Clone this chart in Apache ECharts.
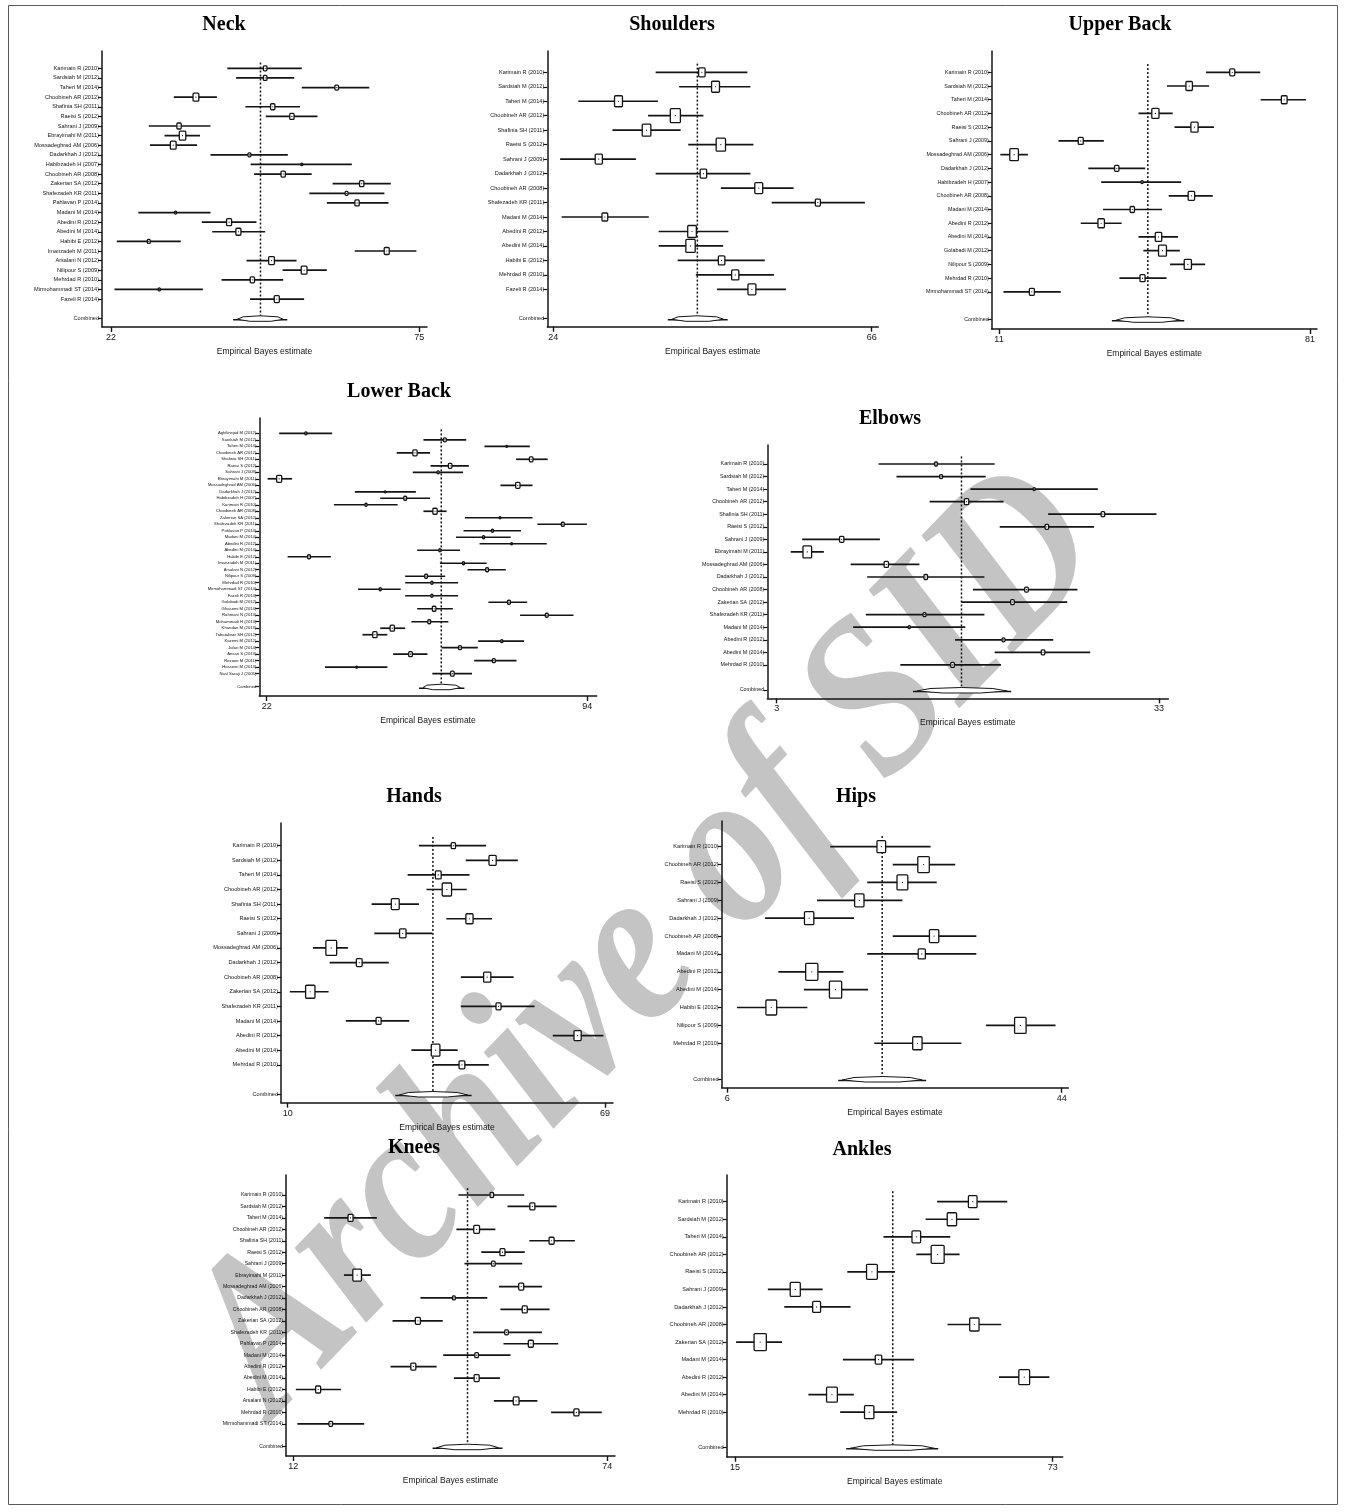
<!DOCTYPE html>
<html>
<head>
<meta charset="utf-8">
<title>Musculoskeletal symptoms – Empirical Bayes estimates</title>
<script src="https://cdn.jsdelivr.net/npm/echarts@6/dist/echarts.min.js"></script>
<style>
  html, body { margin: 0; padding: 0; background: #ffffff; }
  #chart { width: 1346px; height: 1512px; }
</style>
</head>
<body>
<div id="chart"></div>
<script>
// ---------------- Neck ----------------
const neckStudies = ["Karimain R (2010)", "Sardsiah M (2012)", "Taheri M (2014)", "Choobineh AR (2012)", "Shafinia SH (2011)", "Raeisi S (2012)", "Sahrani J (2009)", "Ebrayimahi M (2011)", "Mossadeghrad AM (2006)", "Dadarkhah J (2012)", "Habibzadeh H (2007)", "Choobineh AR (2008)", "Zakerian SA (2012)", "Shafezadeh KR (2011)", "Pahlavan P (2014)", "Madani M (2014)", "Abedini R (2012)", "Abedini M (2014)", "Habibi E (2012)", "Imanzadeh M (2011)", "Arsalani N (2012)", "Nilipour S (2009)", "Mehrdad R (2010)", "Mirmohammadi ST (2014)", "Fazeli R (2014)"];
const neckEstimate = [48.5, 48.5, 60.8, 36.6, 49.8, 53.1, 33.7, 34.3, 32.7, 45.8, 54.8, 51.6, 65.1, 62.5, 64.3, 33.1, 42.3, 43.9, 28.5, 69.4, 49.6, 55.2, 46.3, 30.3, 50.5];
const neckLower = [42.0, 43.5, 54.8, 32.8, 45.1, 48.6, 28.5, 31.2, 28.7, 39.1, 46.0, 46.6, 60.1, 56.1, 59.1, 26.7, 37.6, 39.4, 23.0, 63.9, 45.3, 51.5, 41.0, 22.6, 45.9];
const neckUpper = [54.8, 53.5, 66.4, 40.2, 54.5, 57.5, 39.1, 37.3, 36.8, 52.4, 63.4, 56.5, 70.1, 69.0, 69.7, 39.1, 47.0, 48.5, 34.0, 74.5, 53.9, 59.1, 51.6, 37.8, 55.2];
const neckWeight = [5, 5, 5, 8, 6, 6, 6, 9, 8, 4, 2.5, 6, 6, 4, 6, 3, 7, 7, 4, 7, 8, 8, 6, 3, 7];
const neckCombined = [47.7, 43.0, 52.3];
const neckTicks = [22, 75];

// ---------------- Shoulders ----------------
const shouldersStudies = ["Karimain R (2010)", "Sardsiah M (2012)", "Taheri M (2014)", "Choobineh AR (2012)", "Shafinia SH (2011)", "Raeisi S (2012)", "Sahrani J (2009)", "Dadarkhah J (2012)", "Choobineh AR (2008)", "Shafezadeh KR (2011)", "Madani M (2014)", "Abedini R (2012)", "Abedini M (2014)", "Habibi E (2012)", "Mehrdad R (2010)", "Fazeli R (2014)"];
const shouldersEstimate = [43.6, 45.4, 32.6, 40.1, 36.3, 46.1, 30.0, 43.8, 51.1, 58.9, 30.8, 42.3, 42.1, 46.2, 48.0, 50.2];
const shouldersLower = [37.5, 40.6, 27.3, 36.5, 31.8, 41.8, 24.9, 37.5, 46.1, 52.8, 25.1, 37.9, 37.9, 40.4, 42.8, 45.6];
const shouldersUpper = [49.6, 50.0, 37.8, 43.8, 40.8, 50.4, 34.9, 50.0, 55.7, 65.1, 36.6, 47.1, 46.4, 51.9, 53.1, 54.7];
const shouldersWeight = [9, 11, 11, 14, 12, 13, 10, 9, 11, 7, 8, 12, 13, 9, 10, 11];
const shouldersCombined = [43.0, 39.1, 47.0];
const shouldersTicks = [24, 66];

// ---------------- Upper Back ----------------
const upperBackStudies = ["Karimain R (2010)", "Sardsiah M (2012)", "Taheri M (2014)", "Choobineh AR (2012)", "Raeisi S (2012)", "Sahrani J (2009)", "Mossadeghrad AM (2006)", "Dadarkhah J (2012)", "Habibzadeh H (2007)", "Choobineh AR (2008)", "Madani M (2014)", "Abedini R (2012)", "Abedini M (2014)", "Golabadi M (2012)", "Nilipour S (2009)", "Mehrdad R (2010)", "Mirmohammadi ST (2014)"];
const upperBackEstimate = [63.5, 53.8, 75.2, 46.2, 55.0, 29.4, 14.4, 37.5, 43.2, 54.3, 41.0, 34.0, 46.9, 47.8, 53.5, 43.3, 18.4];
const upperBackLower = [57.6, 48.8, 69.9, 42.4, 50.5, 24.4, 11.3, 31.1, 34.0, 49.2, 34.4, 29.4, 42.4, 43.5, 49.5, 38.1, 12.0];
const upperBackUpper = [69.8, 58.3, 80.1, 50.1, 59.4, 34.6, 17.5, 43.9, 52.0, 59.1, 47.7, 38.6, 51.3, 51.7, 57.4, 48.7, 24.9];
const upperBackWeight = [7, 9, 8, 10, 10, 7, 12, 6, 3, 9, 6, 9, 9, 11, 10, 7, 7];
const upperBackCombined = [44.5, 36.4, 52.7];
const upperBackTicks = [11, 81];

// ---------------- Lower Back ----------------
const lowerBackStudies = ["Aghilinejad M (2012)", "Sardsiah M (2012)", "Taheri M (2014)", "Choobineh AR (2012)", "Shafinia SH (2011)", "Raeisi S (2012)", "Sahrani J (2009)", "Ebrayimahi M (2011)", "Mossadeghrad AM (2006)", "Dadarkhah J (2012)", "Habibzadeh H (2007)", "Karimain R (2010)", "Choobineh AR (2008)", "Zakerian SA (2012)", "Shafezadeh KR (2011)", "Pahlavan P (2014)", "Madani M (2014)", "Abedini R (2012)", "Abedini M (2014)", "Habibi E (2012)", "Imanzadeh M (2011)", "Arsalani N (2012)", "Nilipour S (2009)", "Mehrdad R (2010)", "Mirmohammadi ST (2014)", "Fazeli R (2014)", "Golabadi M (2012)", "Ghasemi M (2014)", "Rahmani N (2013)", "Mohammadi H (2013)", "Khandan M (2013)", "Tabatabaei SH (2012)", "Kazemi M (2012)", "Jafari M (2014)", "Ansari S (2013)", "Rezaee M (2011)", "Hosseini M (2013)", "Nasl Saraji J (2005)"];
const lowerBackEstimate = [30.8, 62.0, 75.9, 55.3, 81.4, 63.2, 60.5, 24.8, 78.4, 48.6, 53.1, 44.3, 59.8, 74.4, 88.5, 72.7, 70.7, 77.0, 60.9, 31.5, 66.2, 71.5, 57.8, 59.1, 47.5, 59.1, 76.4, 59.6, 84.9, 58.5, 50.2, 46.3, 74.8, 65.4, 54.3, 73.0, 42.2, 63.7];
const lowerBackLower = [24.8, 57.2, 70.9, 51.2, 78.0, 58.8, 54.8, 22.2, 74.5, 41.8, 47.5, 37.1, 57.2, 66.5, 82.8, 66.2, 64.5, 69.8, 55.8, 26.7, 60.9, 67.1, 53.1, 53.1, 42.5, 53.1, 71.8, 55.8, 78.9, 54.5, 47.5, 43.5, 69.5, 61.3, 50.4, 68.6, 35.1, 59.2];
const lowerBackUpper = [36.7, 66.8, 81.1, 58.7, 85.1, 67.4, 66.1, 27.7, 81.7, 55.5, 58.7, 51.4, 62.4, 81.7, 93.9, 79.1, 76.8, 84.9, 65.4, 36.4, 71.4, 75.7, 62.1, 65.0, 52.1, 65.0, 80.5, 63.8, 90.9, 62.8, 53.1, 49.1, 79.8, 69.4, 58.1, 78.1, 49.1, 68.1];
const lowerBackWeight = [3, 4, 2, 6, 5, 5, 3, 7, 6, 2, 4, 3, 6, 2, 4, 3, 3, 2, 3, 4, 3, 4, 4, 3, 3, 3, 4, 5, 4, 4, 6, 6, 3, 4, 5, 4, 2, 5];
const lowerBackCombined = [61.2, 56.2, 66.4];
const lowerBackTicks = [22, 94];

// ---------------- Elbows ----------------
const elbowsStudies = ["Karimain R (2010)", "Sardsiah M (2012)", "Taheri M (2014)", "Choobineh AR (2012)", "Shafinia SH (2011)", "Raeisi S (2012)", "Sahrani J (2009)", "Ebrayimahi M (2011)", "Mossadeghrad AM (2006)", "Dadarkhah J (2012)", "Choobineh AR (2008)", "Zakerian SA (2012)", "Shafezadeh KR (2011)", "Madani M (2014)", "Abedini R (2012)", "Abedini M (2014)", "Mehrdad R (2010)"];
const elbowsEstimate = [15.5, 15.9, 23.2, 17.9, 28.6, 24.2, 8.1, 5.4, 11.6, 14.7, 22.6, 21.5, 14.6, 13.4, 20.8, 23.9, 16.8];
const elbowsLower = [11.0, 12.4, 18.2, 15.0, 24.3, 20.5, 5.0, 4.1, 8.8, 10.1, 18.4, 17.5, 10.0, 9.0, 17.0, 20.1, 12.7];
const elbowsUpper = [20.1, 19.4, 28.2, 20.8, 32.8, 27.9, 11.1, 6.7, 14.2, 19.3, 26.6, 25.8, 19.3, 17.8, 24.7, 27.6, 20.6];
const elbowsWeight = [4, 4, 3, 6, 5, 5, 6, 12, 6, 5, 5, 5, 4, 3, 4, 5, 5];
const elbowsCombined = [17.5, 13.7, 21.4];
const elbowsTicks = [3, 33];

// ---------------- Hands ----------------
const handsStudies = ["Karimain R (2010)", "Sardsiah M (2012)", "Taheri M (2014)", "Choobineh AR (2012)", "Shafinia SH (2011)", "Raeisi S (2012)", "Sahrani J (2009)", "Mossadeghrad AM (2006)", "Dadarkhah J (2012)", "Choobineh AR (2008)", "Zakerian SA (2012)", "Shafezadeh KR (2011)", "Madani M (2014)", "Abedini R (2012)", "Abedini M (2014)", "Mehrdad R (2010)"];
const handsEstimate = [40.8, 48.1, 38.0, 39.6, 30.0, 43.8, 31.4, 18.1, 23.3, 47.1, 14.2, 49.2, 26.9, 63.9, 37.5, 42.4];
const handsLower = [34.4, 43.1, 32.3, 35.8, 25.6, 39.5, 26.1, 14.7, 17.8, 42.2, 10.4, 42.2, 20.8, 59.3, 33.0, 37.0];
const handsUpper = [46.9, 52.8, 43.8, 43.3, 34.4, 48.0, 36.9, 21.2, 28.8, 52.0, 17.6, 55.9, 32.6, 68.7, 41.6, 47.4];
const handsWeight = [6, 10, 8, 13, 11, 10, 9, 15, 8, 10, 13, 7, 7, 10, 12, 8];
const handsCombined = [37.0, 30.0, 44.2];
const handsTicks = [10, 69];

// ---------------- Hips ----------------
const hipsStudies = ["Karimain R (2010)", "Choobineh AR (2012)", "Raeisi S (2012)", "Sahrani J (2009)", "Dadarkhah J (2012)", "Choobineh AR (2008)", "Madani M (2014)", "Abedini R (2012)", "Abedini M (2014)", "Habibi E (2012)", "Nilipour S (2009)", "Mehrdad R (2010)"];
const hipsEstimate = [23.5, 28.3, 25.9, 21.0, 15.3, 29.5, 28.1, 15.6, 18.3, 11.0, 39.3, 27.6];
const hipsLower = [17.7, 24.8, 21.9, 16.2, 10.3, 24.8, 21.9, 11.8, 14.7, 7.1, 35.4, 22.7];
const hipsUpper = [29.1, 31.9, 29.8, 25.9, 20.4, 34.3, 34.3, 19.2, 22.0, 15.1, 43.3, 32.6];
const hipsWeight = [12, 16, 15, 13, 13, 13, 10, 17, 17, 15, 16, 13];
const hipsCombined = [23.6, 18.6, 28.6];
const hipsTicks = [6, 44];

// ---------------- Knees ----------------
const kneesStudies = ["Karimain R (2010)", "Sardsiah M (2012)", "Taheri M (2014)", "Choobineh AR (2012)", "Shafinia SH (2011)", "Raeisi S (2012)", "Sahrani J (2009)", "Ebrayimahi M (2011)", "Mossadeghrad AM (2006)", "Dadarkhah J (2012)", "Choobineh AR (2008)", "Zakerian SA (2012)", "Shafezadeh KR (2011)", "Pahlavan P (2014)", "Madani M (2014)", "Abedini R (2012)", "Abedini M (2014)", "Habibi E (2012)", "Arsalani N (2012)", "Mehrdad R (2010)", "Mirmohammadi ST (2014)"];
const kneesEstimate = [51.2, 59.2, 23.3, 48.2, 63.0, 53.3, 51.5, 24.6, 57.0, 43.7, 57.7, 36.6, 54.1, 58.9, 48.2, 35.7, 48.2, 16.9, 56.0, 67.9, 19.4];
const kneesLower = [44.6, 54.3, 18.1, 44.2, 58.6, 49.1, 45.8, 22.0, 52.6, 37.1, 52.9, 31.6, 47.5, 53.5, 41.6, 31.2, 43.7, 12.5, 51.6, 62.9, 12.8];
const kneesUpper = [57.6, 64.0, 28.5, 51.9, 67.6, 57.7, 57.2, 27.3, 61.1, 50.3, 62.6, 41.5, 61.1, 64.3, 54.9, 40.3, 52.8, 21.4, 60.2, 72.9, 26.0];
const kneesWeight = [5, 7, 7, 8, 7, 7, 5, 12, 7, 4, 7, 7, 5, 7, 5, 7, 7, 7, 8, 7, 5];
const kneesCombined = [46.4, 39.5, 53.3];
const kneesTicks = [12, 74];

// ---------------- Ankles ----------------
const anklesStudies = ["Karimain R (2010)", "Sardsiah M (2012)", "Taheri M (2014)", "Choobineh AR (2012)", "Raeisi S (2012)", "Sahrani J (2009)", "Dadarkhah J (2012)", "Choobineh AR (2008)", "Zakerian SA (2012)", "Madani M (2014)", "Abedini R (2012)", "Abedini M (2014)", "Mehrdad R (2010)"];
const anklesEstimate = [58.4, 54.6, 48.1, 52.0, 40.0, 26.0, 29.9, 58.7, 19.6, 41.2, 67.8, 32.7, 39.5];
const anklesLower = [51.9, 49.8, 42.1, 48.1, 35.5, 21.0, 24.0, 53.8, 15.2, 34.7, 63.2, 28.4, 34.2];
const anklesUpper = [64.7, 59.6, 54.3, 56.0, 44.2, 31.0, 36.1, 63.6, 23.6, 47.7, 72.4, 36.7, 44.6];
const anklesWeight = [12, 13, 12, 18, 15, 14, 11, 13, 17, 9, 15, 15, 13];
const anklesCombined = [43.8, 35.3, 52.1];
const anklesTicks = [15, 73];

const combinedLabel = "Combined";
const axisTitle = "Empirical Bayes estimate";

// Panels: data + page placement (pixel edges of each plot region,
// pixel positions of the two ticks, first study row and combined row).
const panels = [
  { title: "Neck", studies: neckStudies, est: neckEstimate, lo: neckLower, hi: neckUpper, w: neckWeight, comb: neckCombined, ticks: neckTicks,
    box: { left: 102, right: 427, top: 51, bottom: 327, t0: 111, t1: 419.3, row0: 68.3, rowC: 318.3, tx: 224, ty: 25, fs: 5.6 } },
  { title: "Shoulders", studies: shouldersStudies, est: shouldersEstimate, lo: shouldersLower, hi: shouldersUpper, w: shouldersWeight, comb: shouldersCombined, ticks: shouldersTicks,
    box: { left: 547.3, right: 878.3, top: 51, bottom: 326.7, t0: 553.3, t1: 871.7, row0: 72.3, rowC: 318.3, tx: 672, ty: 25, fs: 5.6 } },
  { title: "Upper Back", studies: upperBackStudies, est: upperBackEstimate, lo: upperBackLower, hi: upperBackUpper, w: upperBackWeight, comb: upperBackCombined, ticks: upperBackTicks,
    box: { left: 991.7, right: 1317, top: 51, bottom: 329, t0: 999, t1: 1310, row0: 72.3, rowC: 319.3, tx: 1120, ty: 25, fs: 5.4 } },
  { title: "Lower Back", studies: lowerBackStudies, est: lowerBackEstimate, lo: lowerBackLower, hi: lowerBackUpper, w: lowerBackWeight, comb: lowerBackCombined, ticks: lowerBackTicks,
    box: { left: 259.3, right: 596.7, top: 418, bottom: 696, t0: 266.7, t1: 587.3, row0: 433.3, rowC: 686.7, tx: 399, ty: 392, fs: 4.2 } },
  { title: "Elbows", studies: elbowsStudies, est: elbowsEstimate, lo: elbowsLower, hi: elbowsUpper, w: elbowsWeight, comb: elbowsCombined, ticks: elbowsTicks,
    box: { left: 767.3, right: 1168.3, top: 445, bottom: 698.3, t0: 776.7, t1: 1159, row0: 464, rowC: 690, tx: 890, ty: 419, fs: 5.4 } },
  { title: "Hands", studies: handsStudies, est: handsEstimate, lo: handsLower, hi: handsUpper, w: handsWeight, comb: handsCombined, ticks: handsTicks,
    box: { left: 281, right: 613, top: 823, bottom: 1102.7, t0: 287.7, t1: 605, row0: 845.7, rowC: 1094, tx: 414, ty: 797, fs: 5.6 } },
  { title: "Hips", studies: hipsStudies, est: hipsEstimate, lo: hipsLower, hi: hipsUpper, w: hipsWeight, comb: hipsCombined, ticks: hipsTicks,
    box: { left: 721.7, right: 1068.3, top: 821, bottom: 1087.7, t0: 727.3, t1: 1061.7, row0: 846.7, rowC: 1079, tx: 856, ty: 797, fs: 5.6 } },
  { title: "Knees", studies: kneesStudies, est: kneesEstimate, lo: kneesLower, hi: kneesUpper, w: kneesWeight, comb: kneesCombined, ticks: kneesTicks,
    box: { left: 286, right: 615, top: 1175, bottom: 1456, t0: 293.3, t1: 607.3, row0: 1195, rowC: 1446.7, tx: 414, ty: 1148, fs: 5.2 } },
  { title: "Ankles", studies: anklesStudies, est: anklesEstimate, lo: anklesLower, hi: anklesUpper, w: anklesWeight, comb: anklesCombined, ticks: anklesTicks,
    box: { left: 726.7, right: 1062.7, top: 1175, bottom: 1456.7, t0: 735, t1: 1052.7, row0: 1201.7, rowC: 1447.3, tx: 862, ty: 1150, fs: 5.6 } }
];

const INK = '#141414';
const SANS = '"Liberation Sans", Arial, sans-serif';
const SERIF = '"Liberation Serif", "Times New Roman", serif';

// Study marker: CI whisker plus a hollow box sized by study weight.
function renderStudy(params, api) {
  const row = api.value(3);
  const c = api.coord([api.value(0), row]);
  const l = api.coord([api.value(1), row]);
  const r = api.coord([api.value(2), row]);
  const h = api.value(4);
  const w = Math.max(2, h * 0.72);
  return {
    type: 'group',
    children: [
      { type: 'line', shape: { x1: l[0], y1: c[1], x2: r[0], y2: c[1] }, style: { stroke: INK, lineWidth: 1.7 } },
      { type: 'rect', shape: { x: c[0] - w / 2, y: c[1] - h / 2, width: w, height: h, r: 1 },
        style: { fill: '#ffffff', stroke: INK, lineWidth: 1.3 } },
      { type: 'circle', shape: { cx: c[0], cy: c[1], r: 0.6 }, style: { fill: INK } }
    ]
  };
}

// Pooled estimate: dotted reference line and a flat diamond.
function renderCombined(params, api) {
  const row = api.value(3);
  const c = api.coord([api.value(0), row]);
  const l = api.coord([api.value(1), row]);
  const r = api.coord([api.value(2), row]);
  const top = api.coord([api.value(0), -0.6]);
  const half = (r[0] - l[0]) * 0.32;
  return {
    type: 'group',
    children: [
      { type: 'line', shape: { x1: c[0], y1: top[1], x2: c[0], y2: c[1] },
        style: { stroke: INK, lineWidth: 1.5, lineDash: [2, 2] } },
      { type: 'line', shape: { x1: l[0], y1: c[1] + 1.5, x2: r[0], y2: c[1] + 1.5 },
        style: { stroke: INK, lineWidth: 1.6 } },
      { type: 'polygon', shape: { points: [[l[0] + 4, c[1] + 1], [c[0] - half, c[1] - 1.5], [c[0], c[1] - 2.5], [c[0] + half, c[1] - 1.5], [r[0] - 4, c[1] + 1], [c[0] + half * 0.6, c[1] + 3], [c[0] - half * 0.6, c[1] + 3]] },
        style: { fill: '#ffffff', stroke: INK, lineWidth: 1 } }
    ]
  };
}

const grids = [], xAxes = [], yAxes = [], series = [], graphics = [];

// Watermark text running diagonally across the page (condensed along its baseline)
graphics.push({
  type: 'text', x: 650, y: 945, rotation: 46 * Math.PI / 180, scaleX: 0.86, scaleY: 1, z: -5, silent: true,
  style: { text: 'Archive of SID', font: 'italic bold 225px ' + SERIF, fill: '#c4c4c4', align: 'center', verticalAlign: 'middle' }
});
// Outer frame
graphics.push({
  type: 'rect', z: -6, shape: { x: 8.5, y: 5.5, width: 1329, height: 1499 },
  style: { fill: 'none', stroke: '#5a5a5a', lineWidth: 1 }
});

panels.forEach((p, i) => {
  const b = p.box;
  const n = p.studies.length;
  const combIdx = n + 1;
  const perPx = (p.ticks[1] - p.ticks[0]) / (b.t1 - b.t0);
  const xmin = p.ticks[0] + (b.left - b.t0) * perPx;
  const xmax = p.ticks[0] + (b.right - b.t0) * perPx;
  const rowPx = (b.rowC - b.row0) / combIdx;
  const ymin = -(b.row0 - b.top) / rowPx;
  const ymax = combIdx + (b.bottom - b.rowC) / rowPx;

  const labelMap = {};
  p.studies.forEach((s, k) => { labelMap[k] = s; });
  labelMap[combIdx] = combinedLabel;
  const rowValues = p.studies.map((s, k) => k).concat([combIdx]);

  grids.push({ left: b.left, top: b.top, width: b.right - b.left, height: b.bottom - b.top, containLabel: false });

  xAxes.push({
    gridIndex: i, type: 'value', min: xmin, max: xmax,
    axisLine: { show: true, onZero: false, lineStyle: { color: INK, width: 1.5 } },
    axisTick: { show: true, customValues: p.ticks, length: 5, lineStyle: { color: INK, width: 1.4 } },
    axisLabel: { show: true, customValues: p.ticks, fontSize: 9, color: INK, margin: 6, fontFamily: SANS },
    splitLine: { show: false },
    name: axisTitle, nameLocation: 'middle', nameGap: 20,
    nameTextStyle: { fontSize: 8.5, color: INK, fontFamily: SANS }
  });

  yAxes.push({
    gridIndex: i, type: 'value', inverse: true, min: ymin, max: ymax,
    axisLine: { show: true, onZero: false, lineStyle: { color: INK, width: 1.5 } },
    axisTick: { show: true, customValues: rowValues, length: 4, lineStyle: { color: INK, width: 1.2 } },
    axisLabel: { show: true, customValues: rowValues, fontSize: b.fs, color: INK, margin: 3, fontFamily: SANS,
      formatter: v => labelMap[Math.round(v)] || '' },
    splitLine: { show: false }
  });

  const rows = p.studies.map((s, k) => [p.est[k], p.lo[k], p.hi[k], k, p.w[k]]);
  series.push({
    type: 'custom', coordinateSystem: 'cartesian2d', xAxisIndex: i, yAxisIndex: i,
    renderItem: renderCombined, clip: false, silent: true, z: 2,
    data: [[p.comb[0], p.comb[1], p.comb[2], combIdx]]
  });
  series.push({
    type: 'custom', coordinateSystem: 'cartesian2d', xAxisIndex: i, yAxisIndex: i,
    renderItem: renderStudy, clip: false, silent: true, z: 3,
    data: rows
  });

  graphics.push({
    type: 'text', x: b.tx, y: b.ty, z: 10,
    style: { text: p.title, font: 'bold 20px ' + SERIF, fill: '#000', align: 'center', verticalAlign: 'middle' }
  });
});

const chart = echarts.init(document.getElementById('chart'), null, { renderer: 'canvas', width: 1346, height: 1512 });
chart.setOption({
  backgroundColor: '#ffffff',
  animation: false,
  grid: grids,
  xAxis: xAxes,
  yAxis: yAxes,
  series: series,
  graphic: graphics
});
</script>
</body>
</html>
